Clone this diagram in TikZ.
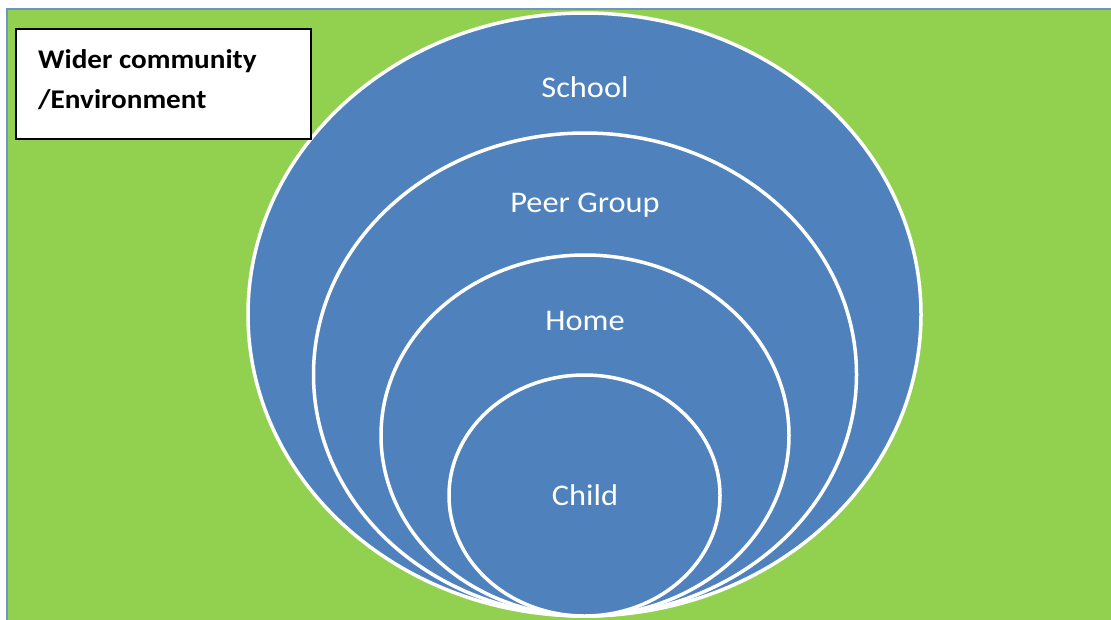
\documentclass[tikz,border=0pt]{standalone}
\usepackage{fontspec}
\setmainfont{Carlito}
\newfontfamily\widefont[FakeStretch=1.08]{Carlito}
\definecolor{bgreen}{HTML}{92D050}
\definecolor{oblue}{HTML}{4F81BD}
\definecolor{frameblue}{HTML}{6F93C8}
\tikzset{
  ring/.style={draw=white, line width=3.5pt, fill=oblue},
  lab/.style={text=white, font=\widefont\fontsize{30}{36}\selectfont, inner sep=0pt},
  boxlab/.style={draw=black, line width=1.5pt, fill=white, inner sep=0pt, minimum width=295pt, minimum height=110pt},
  boxtext/.style={anchor=base west, font=\widefont\bfseries\fontsize{27}{40}\selectfont, inner sep=0pt}
}
\begin{document}
\begin{tikzpicture}[x=1pt,y=-1pt]
\useasboundingbox (0,0) rectangle (1111,619);
\fill[white] (0,0) rectangle (1111,619);
\filldraw[fill=bgreen, draw=frameblue, line width=1.5pt] (7,9) rectangle (1115,625);
\draw[ring] (584.5,314.5) ellipse [x radius=336.5, y radius=301.5];
\draw[ring] (585,374.5) ellipse [x radius=271.5, y radius=241.5];
\draw[ring] (585,435.5) ellipse [x radius=204, y radius=180.5];
\draw[ring] (584.5,495.5) ellipse [x radius=135.5, y radius=120.5];
\node[lab] (school) at (585,87) {School};
\node[lab] (peer) at (585,205) {Peer Group};
\node[lab] (home) at (585,321) {Home};
\node[lab] (child) at (585,495) {Child};
\node[boxlab] (box) at (163.5,84) {};
\node[boxtext] (wc) at (38,68) {Wider community};
\node[boxtext] (env) at (38,108) {/Environment};
\end{tikzpicture}
\end{document}
